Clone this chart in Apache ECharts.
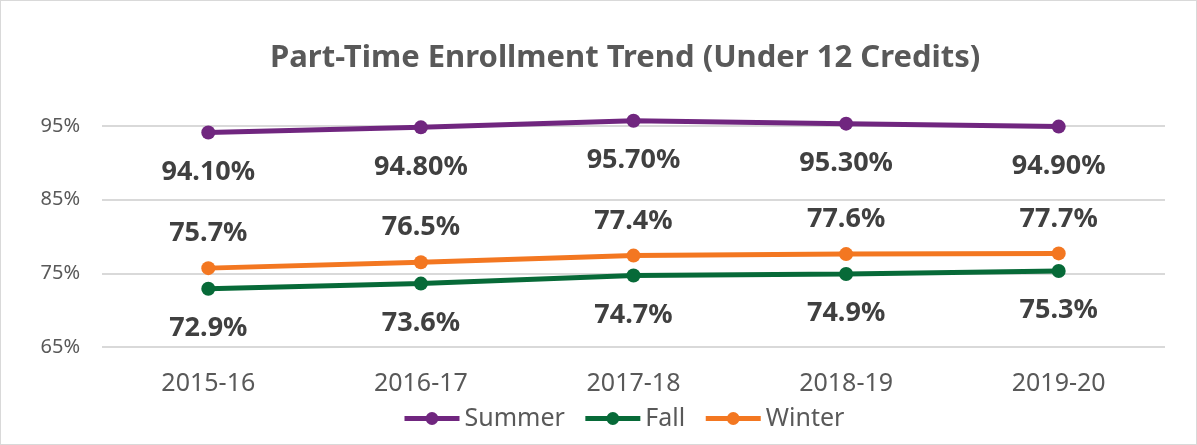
<!DOCTYPE html>
<html>
<head>
<meta charset="utf-8">
<script src="https://cdn.jsdelivr.net/npm/echarts@6/dist/echarts.min.js"></script>
<style>
  html, body { margin: 0; padding: 0; background: #fff; }
  #chartContainer { width: 1195px; height: 443px; border: 1px solid #d9d9d9; }
</style>
</head>
<body>
<div id="chartContainer"></div>
<script>
// Chart data
const years = ['2015-16', '2016-17', '2017-18', '2018-19', '2019-20'];
const summer = [94.1, 94.8, 95.7, 95.3, 94.9];
const fall = [72.9, 73.6, 74.7, 74.9, 75.3];
const winter = [75.7, 76.5, 77.4, 77.6, 77.7];

const labelFont = { fontFamily: 'Noto Sans', fontWeight: 'bold', fontSize: 27, color: '#404040' };

function makeSeries(name, data, color, position, distance, decimals) {
    return {
        name: name,
        type: 'line',
        data: data,
        symbol: 'circle',
        symbolSize: 14,
        lineStyle: { width: 5, color: color },
        itemStyle: { color: color },
        label: {
            show: true,
            position: position,
            distance: distance,
            formatter: p => p.value.toFixed(decimals) + '%',
            ...labelFont
        }
    };
}

const myChart = echarts.init(document.getElementById('chartContainer'));

myChart.setOption({
    animation: false,
    title: {
        text: 'Part-Time Enrollment Trend (Under 12 Credits)',
        left: 264,
        top: 37,
        textStyle: { fontFamily: 'Noto Sans', fontWeight: 'bold', fontSize: 31, color: '#595959' }
    },
    grid: { left: 101, right: 31, top: 88, bottom: 97 },
    legend: {
        bottom: 8,
        left: 396,
        itemWidth: 55,
        itemHeight: 16,
        itemGap: 18,
        lineStyle: { width: 5 },
        textStyle: { fontFamily: 'Noto Sans', fontSize: 25, color: '#595959' },
        data: ['Summer', 'Fall', 'Winter']
    },
    xAxis: {
        type: 'category',
        data: years,
        axisLine: { show: false },
        axisTick: { show: false },
        axisLabel: { fontFamily: 'Noto Sans', fontSize: 25, color: '#595959', margin: 24 }
    },
    yAxis: {
        type: 'value',
        min: 65,
        max: 100,
        interval: 10,
        axisLine: { show: false },
        axisTick: { show: false },
        axisLabel: {
            fontFamily: 'Noto Sans', fontSize: 20, color: '#595959', margin: 22,
            showMaxLabel: false,
            formatter: v => v + '%'
        },
        splitLine: {
            lineStyle: { width: 2, color: ['#d9d9d9', '#d9d9d9', '#d9d9d9', '#d9d9d9', 'rgba(0,0,0,0)'] }
        }
    },
    series: [
        makeSeries('Summer', summer, '#70267f', 'bottom', 19, 2),
        makeSeries('Fall', fall, '#076a38', 'bottom', 19, 1),
        makeSeries('Winter', winter, '#f37721', 'top', 14, 1)
    ]
});
</script>
</body>
</html>
